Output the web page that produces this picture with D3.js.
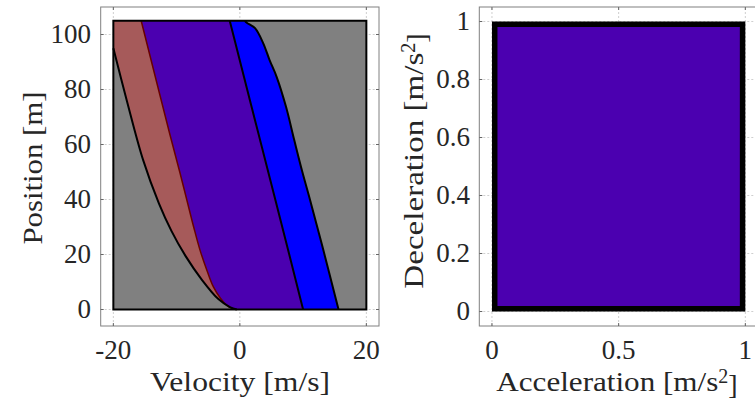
<!DOCTYPE html>
<html><head><meta charset="utf-8">
<script src="https://cdn.jsdelivr.net/npm/d3@7"></script>
<style>
html,body{margin:0;padding:0;background:#fff;}
text{font-family:"Liberation Serif","Times New Roman",serif;fill:#262626;}
</style></head>
<body>
<svg id="chart" width="755" height="403"></svg>
<script>
// ---- data (velocity [m/s], position [m]) ----
const xTicksL = [-20, 0, 20];
const yTicksL = [0, 20, 40, 60, 80, 100];
const xTicksR = [0, 0.5, 1];
const yTicksR = [0, 0.2, 0.4, 0.6, 0.8, 1];
const xTickLabelsR = ["0", "0.5", "1"];
const yTickLabelsR = ["0", "0.2", "0.4", "0.6", "0.8", "1"];
const domainBox = [[-20, 0], [20, 105]];
// boundary gray / red (braking curve)
const curveA = [[-20,95],[-17.9,76.2],[-15.3,54.4],[-12.8,38.6],[-10.8,28.5],[-8.6,19.5],[-6,10.8],[-3.4,3.8],[-1.5,0.8],[-0.5,0]];
// boundary red / purple
const curveB = [[-15.6,105],[-13.3,84],[-11.1,64],[-9.5,50],[-8.4,40],[-7.3,30],[-6.3,21.6],[-5.2,14.2],[-4.2,8.3],[-3.1,4.2],[-2.1,1.6],[-1.2,0.4],[-0.5,0]];
// boundary purple / blue
const curveC = [[-1.6,105],[1.6,76],[5.6,40],[7.9,19.2],[10,0]];
// boundary blue / gray
const curveD = [[0.8,105],[1.1,104.3],[2.4,102.3],[3.7,96.8],[4.7,90.7],[5.8,84.7],[7.3,73.7],[8.6,61.6],[9.8,50.7],[11.1,39.8],[13.2,21.6],[15.6,0]];
// right panel: feasible acceleration/deceleration set
const accelRange = [0, 1];
const decelRange = [0, 1];

const svg = d3.select("#chart");
const fs = 27;

// ---- left panel ----
const xL = d3.scaleLinear().domain([-22, 22]).range([100.7, 379]);
const yL = d3.scaleLinear().domain([-6, 110]).range([326, 7]);
const gL = svg.append("g");

function grid(g, x, y, xt, yt) {
  const [x0, x1] = x.range(), [y0, y1] = y.range();
  g.selectAll(".gx").data(xt).join("line").attr("x1", d => x(d)).attr("x2", d => x(d))
    .attr("y1", y0).attr("y2", y1).attr("stroke", "#cfcfcf").attr("stroke-width", 1).attr("stroke-dasharray", "2,2");
  g.selectAll(".gy").data(yt).join("line").attr("y1", d => y(d)).attr("y2", d => y(d))
    .attr("x1", x0).attr("x2", x1).attr("stroke", "#cfcfcf").attr("stroke-width", 1).attr("stroke-dasharray", "2,2");
}
grid(gL.append("g"), xL, yL, xTicksL, yTicksL);

const smooth = d3.line().x(d => xL(d[0])).y(d => yL(d[1])).curve(d3.curveCatmullRom.alpha(0.5));
const straight = d3.line().x(d => xL(d[0])).y(d => yL(d[1]));
function poly(segs) {
  return segs.map((s, i) => {
    const d = s.gen(s.pts);
    return i === 0 ? d : "L" + d.slice(1);
  }).join("") + "Z";
}
const rev = a => a.slice().reverse();

gL.append("rect").attr("x", xL(domainBox[0][0])).attr("y", yL(domainBox[1][1]))
  .attr("width", xL(domainBox[1][0]) - xL(domainBox[0][0])).attr("height", yL(domainBox[0][1]) - yL(domainBox[1][1]))
  .attr("fill", "#808080");

gL.append("path").attr("fill", "#a65a5a")
  .attr("d", poly([{gen: straight, pts: [[-20,105], curveB[0]]}, {gen: smooth, pts: curveB}, {gen: smooth, pts: rev(curveA)}]));
gL.append("path").attr("fill", "#4b00b0")
  .attr("d", poly([{gen: smooth, pts: curveB}, {gen: straight, pts: rev(curveC)}]));
gL.append("path").attr("fill", "#0000ff")
  .attr("d", poly([{gen: straight, pts: curveC}, {gen: smooth, pts: rev(curveD)}]));

gL.append("path").attr("d", smooth(curveB)).attr("fill", "none").attr("stroke", "#6a0000").attr("stroke-width", 1.5);
gL.append("path").attr("d", smooth(curveA)).attr("fill", "none").attr("stroke", "#000").attr("stroke-width", 2);
gL.append("path").attr("d", straight(curveC)).attr("fill", "none").attr("stroke", "#000").attr("stroke-width", 2);
gL.append("path").attr("d", smooth(curveD)).attr("fill", "none").attr("stroke", "#000").attr("stroke-width", 2);
gL.append("rect").attr("x", xL(domainBox[0][0])).attr("y", yL(domainBox[1][1]))
  .attr("width", xL(domainBox[1][0]) - xL(domainBox[0][0])).attr("height", yL(domainBox[0][1]) - yL(domainBox[1][1]))
  .attr("fill", "none").attr("stroke", "#000").attr("stroke-width", 2);

function frame(g, x, y, xt, yt) {
  const [x0, x1] = x.range(), [y0, y1] = y.range();
  g.append("rect").attr("x", x0).attr("y", y1).attr("width", x1 - x0).attr("height", y0 - y1)
    .attr("fill", "none").attr("stroke", "#808080").attr("stroke-width", 1);
  const tl = 3;
  xt.forEach(d => {
    g.append("line").attr("x1", x(d)).attr("x2", x(d)).attr("y1", y0).attr("y2", y0 - tl).attr("stroke", "#666");
    g.append("line").attr("x1", x(d)).attr("x2", x(d)).attr("y1", y1).attr("y2", y1 + tl).attr("stroke", "#666");
  });
  yt.forEach(d => {
    g.append("line").attr("y1", y(d)).attr("y2", y(d)).attr("x1", x0).attr("x2", x0 + tl).attr("stroke", "#666");
    g.append("line").attr("y1", y(d)).attr("y2", y(d)).attr("x1", x1).attr("x2", x1 - tl).attr("stroke", "#666");
  });
}
frame(gL, xL, yL, xTicksL, yTicksL);

gL.selectAll(".xt").data(xTicksL).join("text").attr("x", d => xL(d)).attr("y", 359)
  .attr("text-anchor", "middle").attr("font-size", fs).text(d => d);
gL.selectAll(".yt").data(yTicksL).join("text").attr("x", 91).attr("y", d => yL(d)).attr("dy", "0.33em")
  .attr("text-anchor", "end").attr("font-size", fs).text(d => d);
gL.append("text").attr("x", 240).attr("y", 391).attr("text-anchor", "middle").attr("font-size", 28)
  .attr("textLength", 180).attr("lengthAdjust", "spacingAndGlyphs").text("Velocity [m/s]");
gL.append("text").attr("transform", "translate(42,168) rotate(-90)").attr("text-anchor", "middle")
  .attr("font-size", 28).attr("textLength", 153).attr("lengthAdjust", "spacingAndGlyphs").text("Position [m]");

// ---- right panel ----
const xR = d3.scaleLinear().domain([-0.05, 1.05]).range([479.3, 758]);
const yR = d3.scaleLinear().domain([-0.05, 1.05]).range([326, 7]);
const gR = svg.append("g");
grid(gR.append("g"), xR, yR, xTicksR, yTicksR);
const sw = 5.5, inset = sw / 2;
gR.append("rect").attr("x", xR(accelRange[0]) + inset).attr("y", yR(decelRange[1]) + inset)
  .attr("width", xR(accelRange[1]) - xR(accelRange[0]) - 2 * inset)
  .attr("height", yR(decelRange[0]) - yR(decelRange[1]) - 2 * inset)
  .attr("fill", "#4b00b0").attr("stroke", "#000").attr("stroke-width", sw);
frame(gR, xR, yR, xTicksR, yTicksR);
gR.selectAll(".xt").data(xTicksR).join("text").attr("x", d => xR(d)).attr("y", 359)
  .attr("text-anchor", "middle").attr("font-size", fs).text((d, i) => xTickLabelsR[i]);
gR.selectAll(".yt").data(yTicksR).join("text").attr("x", 470).attr("y", d => yR(d)).attr("dy", "0.33em")
  .attr("text-anchor", "end").attr("font-size", fs).text((d, i) => yTickLabelsR[i]);

function unitLabel(t, main, mainLen) {
  t.append("tspan").attr("textLength", mainLen).attr("lengthAdjust", "spacingAndGlyphs").text(main + " [m/s");
  t.append("tspan").attr("dy", "-0.42em").attr("font-size", 20).text("2");
  t.append("tspan").attr("dy", "0.42em").text("]");
}
unitLabel(gR.append("text").attr("x", 617).attr("y", 391).attr("text-anchor", "middle").attr("font-size", 28), "Acceleration", 222);
unitLabel(gR.append("text").attr("transform", "translate(423,161) rotate(-90)").attr("text-anchor", "middle").attr("font-size", 28), "Deceleration", 236);
</script>
</body></html>
